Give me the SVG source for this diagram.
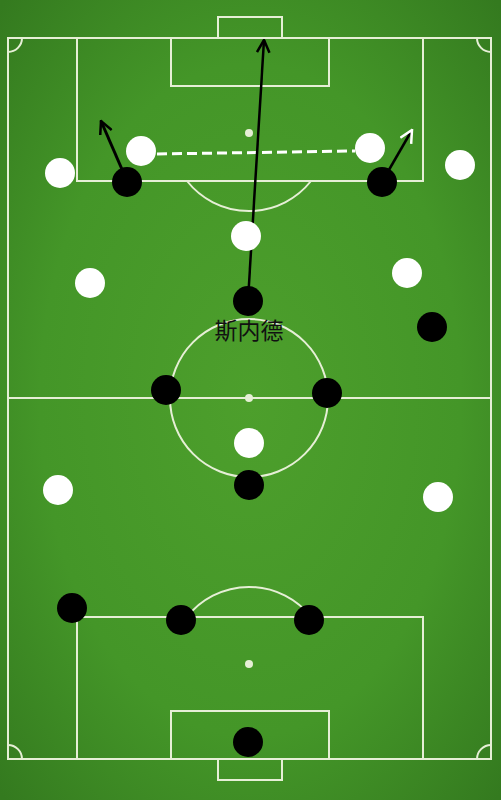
<svg xmlns="http://www.w3.org/2000/svg" width="501" height="800" viewBox="0 0 501 800">
<defs>
<radialGradient id="grass" cx="50%" cy="50%" r="70%">
<stop offset="0" stop-color="#4d9f2c"/>
<stop offset="0.6" stop-color="#449628"/>
<stop offset="1" stop-color="#347a1f"/>
</radialGradient>
<marker id="headBlack" viewBox="0 0 12 12" refX="11" refY="6" markerWidth="15" markerHeight="15" markerUnits="userSpaceOnUse" orient="auto">
<path d="M1,1 L11,6 L1,11" fill="none" stroke="#000" stroke-width="2"/>
</marker>
<marker id="headWhite" viewBox="0 0 12 12" refX="11" refY="6" markerWidth="15" markerHeight="15" markerUnits="userSpaceOnUse" orient="auto">
<path d="M1,1 L11,6 L1,11" fill="none" stroke="#fff" stroke-width="2"/>
</marker>
<style>
.line{fill:none;stroke:#e6efd6;stroke-width:2}
.spot{fill:#e6efd6}
.black{fill:#000}
.white{fill:#fff}
.label{font-family:"Noto Sans CJK SC","Noto Sans",sans-serif;font-size:23px;fill:#111;text-anchor:middle}
</style>
</defs>
<rect width="501" height="800" fill="url(#grass)"/>
<g id="pitch">
<rect class="line" x="8" y="38" width="483" height="721"/>
<line class="line" x1="8" y1="398" x2="491" y2="398"/>
<circle class="line" cx="249" cy="398" r="79"/>
<circle class="spot" cx="249" cy="398" r="4"/>
<rect class="line" x="77" y="38" width="346" height="143"/>
<rect class="line" x="171" y="38" width="158" height="48"/>
<rect class="line" x="218" y="17" width="64" height="21"/>
<circle class="spot" cx="249" cy="133" r="4"/>
<path class="line" d="M187,181 A79,79 0 0 0 311,181"/>
<rect class="line" x="77" y="617" width="346" height="142"/>
<rect class="line" x="171" y="711" width="158" height="48"/>
<rect class="line" x="218" y="759" width="64" height="21"/>
<circle class="spot" cx="249" cy="664" r="4"/>
<path class="line" d="M187,617 A79,79 0 0 1 311,617"/>
<path class="line" d="M22,38 A14,14 0 0 1 8,52"/>
<path class="line" d="M477,38 A14,14 0 0 0 491,52"/>
<path class="line" d="M8,745 A14,14 0 0 1 22,759"/>
<path class="line" d="M491,745 A14,14 0 0 0 477,759"/>
</g>
<g id="connectors">
<line x1="157" y1="154" x2="355" y2="151" stroke="#fff" stroke-width="3" stroke-dasharray="10 5"/>
<line x1="248" y1="300" x2="264" y2="40" stroke="#000" stroke-width="2.5" marker-end="url(#headBlack)"/>
<line x1="124" y1="174" x2="101" y2="121" stroke="#000" stroke-width="3" marker-end="url(#headBlack)"/>
<line x1="386" y1="175" x2="412" y2="130" stroke="#000" stroke-width="2.5" marker-end="url(#headWhite)"/>
</g>
<g id="white-players">
<circle id="w1" class="white" cx="60" cy="173" r="15"/>
<circle id="w2" class="white" cx="141" cy="151" r="15"/>
<circle id="w3" class="white" cx="370" cy="148" r="15"/>
<circle id="w4" class="white" cx="460" cy="165" r="15"/>
<circle id="w5" class="white" cx="246" cy="236" r="15"/>
<circle id="w6" class="white" cx="90" cy="283" r="15"/>
<circle id="w7" class="white" cx="407" cy="273" r="15"/>
<circle id="w8" class="white" cx="249" cy="443" r="15"/>
<circle id="w9" class="white" cx="58" cy="490" r="15"/>
<circle id="w10" class="white" cx="438" cy="497" r="15"/>
</g>
<g id="black-players">
<circle id="b1" class="black" cx="127" cy="182" r="15"/>
<circle id="b2" class="black" cx="382" cy="182" r="15"/>
<g id="sneijder">
<circle class="black" cx="248" cy="301" r="15"/>
<text class="label" x="249" y="339">斯内德</text>
</g>
<circle id="b4" class="black" cx="432" cy="327" r="15"/>
<circle id="b5" class="black" cx="166" cy="390" r="15"/>
<circle id="b6" class="black" cx="327" cy="393" r="15"/>
<circle id="b7" class="black" cx="249" cy="485" r="15"/>
<circle id="b8" class="black" cx="72" cy="608" r="15"/>
<circle id="b9" class="black" cx="181" cy="620" r="15"/>
<circle id="b10" class="black" cx="309" cy="620" r="15"/>
<circle id="b11" class="black" cx="248" cy="742" r="15"/>
</g>
</svg>
